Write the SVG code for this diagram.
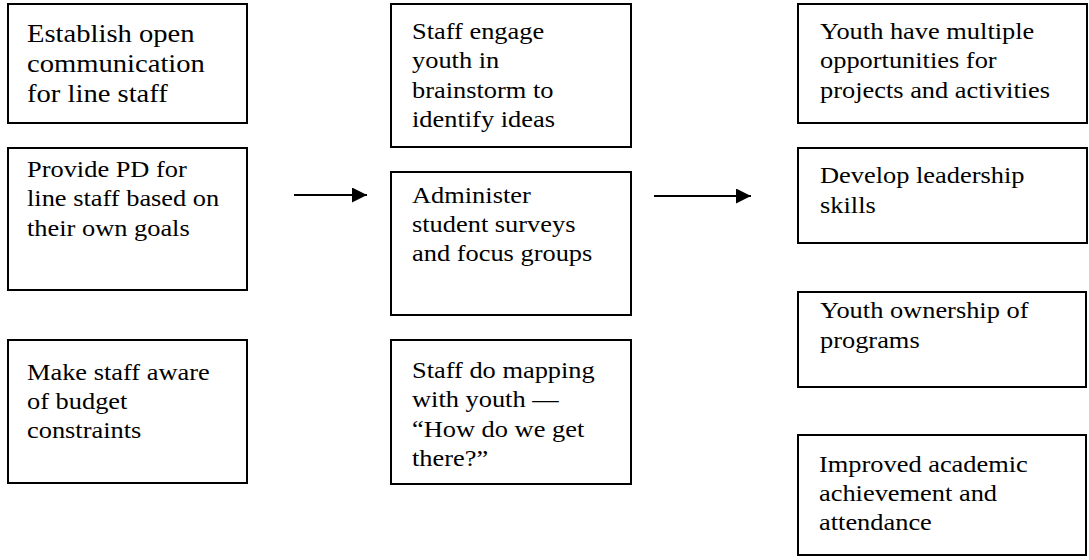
<svg xmlns="http://www.w3.org/2000/svg" width="1089" height="560" viewBox="0 0 1089 560">
  <style>
    .box { fill: #ffffff; stroke: #000000; stroke-width: 2; }
    .lbl { font-family: "Liberation Serif", "Times New Roman", serif; font-size: 24px; fill: #000000; }
    .big { font-size: 26px; }
    .link { stroke: #000000; stroke-width: 2; fill: none; }
  </style>
  <defs>
    <marker id="head" viewBox="0 0 15 15" refX="15" refY="7.5" markerWidth="15" markerHeight="15" markerUnits="userSpaceOnUse" orient="auto">
      <path d="M0,0 L15,7.5 L0,15 Z" fill="#000000"/>
    </marker>
  </defs>
  <rect width="1089" height="560" fill="#ffffff"/>

  <!-- left column: actions -->
  <g id="open-communication">
    <rect class="box" x="8" y="4" width="239" height="119"/>
    <text class="lbl big" transform="translate(27 42) scale(1.1 1)"><tspan x="0">Establish open</tspan><tspan x="0" dy="30">communication</tspan><tspan x="0" dy="30">for line staff</tspan></text>
  </g>
  <g id="provide-pd">
    <rect class="box" x="8" y="148" width="239" height="142"/>
    <text class="lbl" transform="translate(27 177) scale(1.1 1)"><tspan x="0">Provide PD for</tspan><tspan x="0" dy="29.5">line staff based on</tspan><tspan x="0" dy="29.5">their own goals</tspan></text>
  </g>
  <g id="budget-constraints">
    <rect class="box" x="8" y="340" width="239" height="143"/>
    <text class="lbl" transform="translate(27 380) scale(1.1 1)"><tspan x="0">Make staff aware</tspan><tspan x="0" dy="29">of budget</tspan><tspan x="0" dy="29">constraints</tspan></text>
  </g>

  <!-- middle column: activities -->
  <g id="brainstorm">
    <rect class="box" x="391" y="4" width="240" height="143"/>
    <text class="lbl" transform="translate(412 39) scale(1.1 1)"><tspan x="0">Staff engage</tspan><tspan x="0" dy="29.5">youth in</tspan><tspan x="0" dy="29.5">brainstorm to</tspan><tspan x="0" dy="29.5">identify ideas</tspan></text>
  </g>
  <g id="surveys">
    <rect class="box" x="391" y="172" width="240" height="143"/>
    <text class="lbl" transform="translate(412 203) scale(1.1 1)"><tspan x="0">Administer</tspan><tspan x="0" dy="29">student surveys</tspan><tspan x="0" dy="29">and focus groups</tspan></text>
  </g>
  <g id="mapping">
    <rect class="box" x="391" y="340" width="240" height="144"/>
    <text class="lbl" transform="translate(412 378) scale(1.1 1)"><tspan x="0">Staff do mapping</tspan><tspan x="0" dy="29.5">with youth —</tspan><tspan x="0" dy="29.5">“How do we get</tspan><tspan x="0" dy="29.5">there?”</tspan></text>
  </g>

  <!-- right column: outcomes -->
  <g id="opportunities">
    <rect class="box" x="798" y="4" width="289" height="119"/>
    <text class="lbl" transform="translate(820 39) scale(1.1 1)"><tspan x="0">Youth have multiple</tspan><tspan x="0" dy="29.5">opportunities for</tspan><tspan x="0" dy="29.5">projects and activities</tspan></text>
  </g>
  <g id="leadership">
    <rect class="box" x="798" y="148" width="289" height="95"/>
    <text class="lbl" transform="translate(820 183) scale(1.1 1)"><tspan x="0">Develop leadership</tspan><tspan x="0" dy="30">skills</tspan></text>
  </g>
  <g id="ownership">
    <rect class="box" x="798" y="292" width="288" height="95"/>
    <text class="lbl" transform="translate(820 318) scale(1.1 1)"><tspan x="0">Youth ownership of</tspan><tspan x="0" dy="30">programs</tspan></text>
  </g>
  <g id="achievement">
    <rect class="box" x="798" y="435" width="288" height="120"/>
    <text class="lbl" transform="translate(819 472) scale(1.1 1)"><tspan x="0">Improved academic</tspan><tspan x="0" dy="29">achievement and</tspan><tspan x="0" dy="29">attendance</tspan></text>
  </g>

  <!-- connectors between columns -->
  <g id="connectors">
    <line class="link" x1="294" y1="195" x2="367" y2="195" marker-end="url(#head)"/>
    <line class="link" x1="654" y1="196" x2="751" y2="196" marker-end="url(#head)"/>
  </g>
</svg>
